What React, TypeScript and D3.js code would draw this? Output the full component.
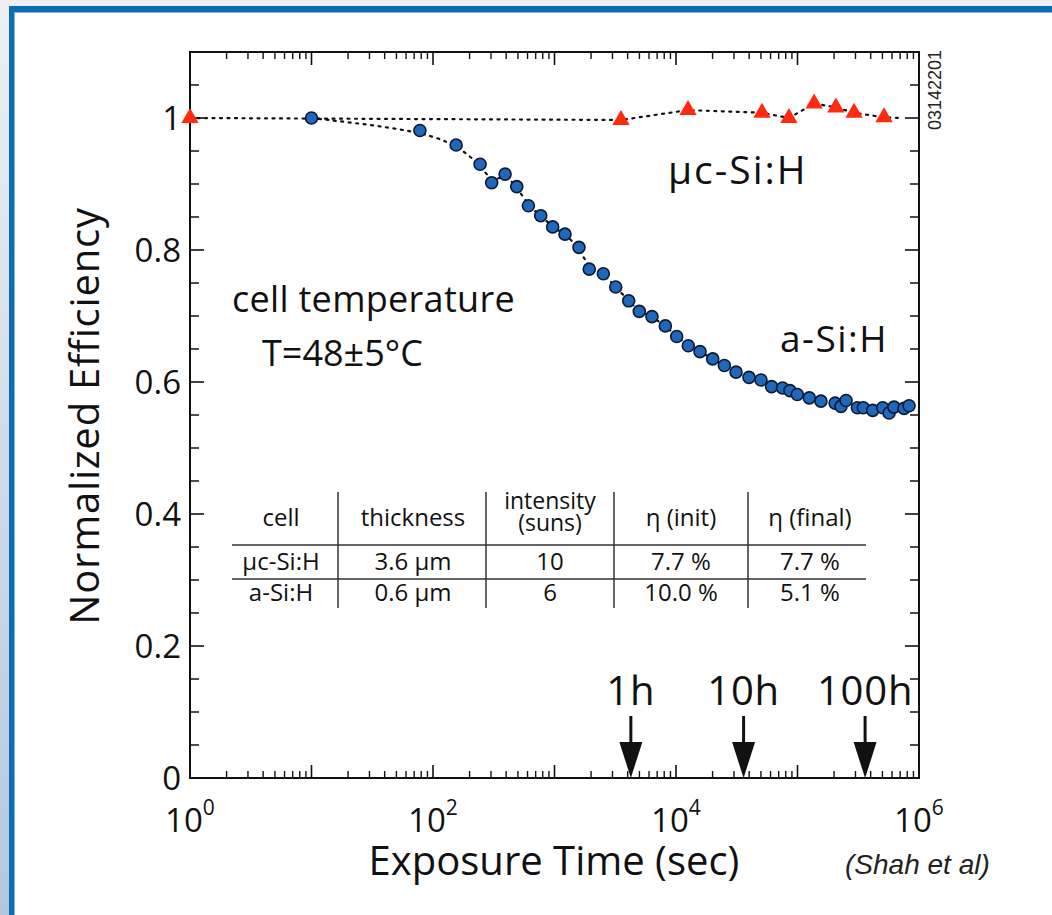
import React from 'react';
import * as d3 from 'd3';

const W = 1052;
const H = 915;
const FONT = "'Open Sans', 'Noto Sans', sans-serif";

// a-Si:H (circles): exposure time (s), normalized efficiency
const aSiTime = [10, 78, 155, 244, 304, 392, 489, 610, 770, 966, 1220, 1590, 1932, 2523, 3190, 4080, 4990, 6340, 8170, 10130, 12630, 15760, 20050, 25000, 31200, 39900, 50100, 61200, 75400, 86700, 99600, 125000, 156000, 204000, 228000, 251000, 311000, 348000, 416000, 503000, 567000, 622000, 753000, 828000];
const aSiEff = [1.0, 0.981, 0.959, 0.93, 0.902, 0.915, 0.896, 0.867, 0.852, 0.835, 0.824, 0.804, 0.771, 0.764, 0.744, 0.723, 0.707, 0.699, 0.685, 0.669, 0.655, 0.646, 0.635, 0.625, 0.615, 0.607, 0.603, 0.593, 0.591, 0.587, 0.581, 0.576, 0.571, 0.568, 0.563, 0.572, 0.561, 0.561, 0.557, 0.561, 0.553, 0.562, 0.56, 0.564];

// μc-Si:H (triangles)
const ucTime = [1, 3525, 12560, 51000, 85000, 137000, 207000, 292000, 515000];
const ucEff = [1.0, 0.997, 1.012, 1.008, 1.0, 1.022, 1.016, 1.008, 1.001];
const ucLineEndTime = 718000;
const ucLineEndEff = 1.0;

const xDecades = [0, 1, 2, 3, 4, 5, 6];
const xLabelDecades = [0, 2, 4, 6];
const yMajorTicks = [0, 0.2, 0.4, 0.6, 0.8, 1];
const yTickLabels = ['0', '0.2', '0.4', '0.6', '0.8', '1'];
const yMinorTicks = [0.05, 0.1, 0.15, 0.25, 0.3, 0.35, 0.45, 0.5, 0.55, 0.65, 0.7, 0.75, 0.85, 0.9, 0.95, 1.05];

const arrowTimes = [4250, 36000, 360000];
const arrowLabels = ['1h', '10h', '100h'];

const tableHeader = [['cell'], ['thickness'], ['intensity', '(suns)'], ['η (init)'], ['η (final)']];
const tableRows = [
  ['μc-Si:H', '3.6 μm', '10', '7.7 %', '7.7 %'],
  ['a-Si:H', '0.6 μm', '6', '10.0 %', '5.1 %'],
];

export default function App() {
  const x = d3.scaleLog().domain([1, 1e6]).range([190, 919]);
  const y = d3.scaleLinear().domain([0, 1.1]).range([778, 52]);
  const [x0, x1] = x.range();
  const [yb, yt] = y.range();

  const minorX: number[] = [];
  for (let d = 0; d < 6; d++) for (let k = 2; k <= 9; k++) minorX.push(k * Math.pow(10, d));

  const aSi = aSiTime.map((t, i) => [t, aSiEff[i]] as [number, number]);
  const uc = ucTime.map((t, i) => [t, ucEff[i]] as [number, number]);
  const ucLine = [...uc, [ucLineEndTime, ucLineEndEff] as [number, number]];

  const line = d3.line<[number, number]>().x(d => x(d[0])).y(d => y(d[1]));
  const smooth = d3.line<[number, number]>().x(d => x(d[0])).y(d => y(d[1])).curve(d3.curveBasis);
  const tri = d3.symbol().type(d3.symbolTriangle).size(130)();

  const colCenters = [281, 413, 550, 681, 810];
  const colLines = [338, 486, 614, 748];
  const rowLines = [545, 579];
  const rowBase = [570, 601];

  return (
    <svg width={W} height={H} style={{ position: 'absolute', left: 0, top: 0, display: 'block' }} fontFamily={FONT}>
      <defs>
        <linearGradient id="leftstrip" x1="0" y1="0" x2="0" y2="1">
          <stop offset="0" stopColor="#eef0f3" />
          <stop offset="1" stopColor="#b3c7dd" />
        </linearGradient>
      </defs>
      <rect x={0} y={0} width={W} height={H} fill="#ffffff" />
      <rect x={0} y={0} width={W} height={6} fill="#eef0f3" />
      <rect x={0} y={0} width={9} height={H} fill="url(#leftstrip)" />
      <rect x={9} y={6} width={W - 9} height={6} fill="#0b6db5" />
      <rect x={9} y={6} width={5} height={H - 6} fill="#0b6db5" />
      <rect x={14} y={12} width={W - 14} height={1} fill="#7fb3e0" />
      <rect x={14} y={12} width={1} height={H - 12} fill="#7fb3e0" />

      {/* x ticks bottom & top */}
      {xDecades.map(d => {
        const px = x(Math.pow(10, d));
        return (
          <g key={'xd' + d}>
            <line x1={px} x2={px} y1={yb} y2={yb - 13} stroke="#111" strokeWidth={1.6} />
            <line x1={px} x2={px} y1={yt} y2={yt + 13} stroke="#111" strokeWidth={1.6} />
          </g>
        );
      })}
      {minorX.map((v, i) => {
        const px = x(v);
        return (
          <g key={'xm' + i}>
            <line x1={px} x2={px} y1={yb} y2={yb - 7} stroke="#111" strokeWidth={1.4} />
            <line x1={px} x2={px} y1={yt} y2={yt + 7} stroke="#111" strokeWidth={1.4} />
          </g>
        );
      })}
      {/* y ticks */}
      {yMajorTicks.map(v => (
        <g key={'ym' + v}>
          <line x1={x0} x2={x0 + 14} y1={y(v)} y2={y(v)} stroke="#111" strokeWidth={1.6} />
          <line x1={x1} x2={x1 - 14} y1={y(v)} y2={y(v)} stroke="#111" strokeWidth={1.6} />
        </g>
      ))}
      {yMinorTicks.map(v => (
        <g key={'yn' + v}>
          <line x1={x0} x2={x0 + 9} y1={y(v)} y2={y(v)} stroke="#111" strokeWidth={1.5} />
          <line x1={x1} x2={x1 - 9} y1={y(v)} y2={y(v)} stroke="#111" strokeWidth={1.5} />
        </g>
      ))}
      <rect x={x0} y={yt} width={x1 - x0} height={yb - yt} fill="none" stroke="#111" strokeWidth={2} />

      {/* y tick labels */}
      {yMajorTicks.map((v, i) => (
        <text key={'yl' + v} x={x0 - 9} y={y(v)} dy="0.36em" textAnchor="end" fontSize={33} fill="#111">{yTickLabels[i]}</text>
      ))}
      {/* x tick labels */}
      {xLabelDecades.map(d => (
        <text key={'xl' + d} x={x(Math.pow(10, d))} y={832} textAnchor="middle" fontSize={33} fill="#111">
          <tspan>10</tspan>
          <tspan dy={-17} fontSize={21}>{d}</tspan>
        </text>
      ))}

      {/* axis titles */}
      <text x={554} y={875} textAnchor="middle" fontSize={40} fill="#111">Exposure Time (sec)</text>
      <text transform={`translate(99,416) rotate(-90)`} textAnchor="middle" fontSize={40} letterSpacing={0.8} fill="#111">Normalized Efficiency</text>
      <text x={845} y={874} fontSize={28} fontStyle="italic" fontFamily="'Liberation Sans', Arial, sans-serif" fill="#222">(Shah et al)</text>
      <text transform={`translate(941,50) rotate(-90)`} textAnchor="end" fontSize={18} fontFamily="'Liberation Sans', Arial, sans-serif" fill="#222">03142201</text>

      {/* lines */}
      <path d={line(ucLine) || ''} fill="none" stroke="#111" strokeWidth={2.2} strokeDasharray="2 5.5" strokeLinecap="round" />
      <path d={smooth(aSi) || ''} fill="none" stroke="#111" strokeWidth={2.2} strokeDasharray="2 5.5" strokeLinecap="round" />

      {/* markers */}
      {aSi.map((d, i) => (
        <circle key={'c' + i} cx={x(d[0])} cy={y(d[1])} r={6} fill="#1f68bb" stroke="#0b1a33" strokeWidth={1.6} />
      ))}
      {uc.map((d, i) => (
        <path key={'t' + i} d={tri || ''} transform={`translate(${x(d[0])},${y(d[1])})`} fill="#ff2a10" />
      ))}

      {/* annotations */}
      <text x={668} y={184} fontSize={39} letterSpacing={2} fill="#111">μc-Si:H</text>
      <text x={780} y={352} fontSize={37} letterSpacing={1.5} fill="#111">a-Si:H</text>
      <text x={232} y={312} fontSize={36} letterSpacing={0.3} fill="#111">cell temperature</text>
      <text x={262} y={366} fontSize={36} fill="#111">T=48±5°C</text>

      {/* arrows */}
      {arrowTimes.map((t, i) => {
        const px = x(t);
        return (
          <g key={'a' + i}>
            <text x={px} y={705} textAnchor="middle" fontSize={40} letterSpacing={0.8} fill="#111">{arrowLabels[i]}</text>
            <line x1={px} x2={px} y1={716} y2={744} stroke="#111" strokeWidth={3} />
            <path d={`M${px - 11.5},${742} L${px + 11.5},${742} L${px},${yb} Z`} fill="#111" />
          </g>
        );
      })}

      {/* table */}
      {rowLines.map(ry => (
        <line key={'rl' + ry} x1={232} x2={866} y1={ry} y2={ry} stroke="#333" strokeWidth={1.5} />
      ))}
      {colLines.map(cx => (
        <line key={'cl' + cx} x1={cx} x2={cx} y1={492} y2={608} stroke="#333" strokeWidth={1.5} />
      ))}
      {tableHeader.map((h, i) => (
        h.length === 1 ? (
          <text key={'th' + i} x={colCenters[i]} y={526} textAnchor="middle" fontSize={24} fill="#111">{h[0]}</text>
        ) : (
          <text key={'th' + i} x={colCenters[i]} textAnchor="middle" fontSize={23} fill="#111">
            <tspan x={colCenters[i]} y={509}>{h[0]}</tspan>
            <tspan x={colCenters[i]} y={531}>{h[1]}</tspan>
          </text>
        )
      ))}
      {tableRows.map((r, ri) => r.map((c, ci) => (
        <text key={'td' + ri + ci} x={colCenters[ci]} y={rowBase[ri]} textAnchor="middle" fontSize={24} fill="#111">{c}</text>
      )))}
    </svg>
  );
}
